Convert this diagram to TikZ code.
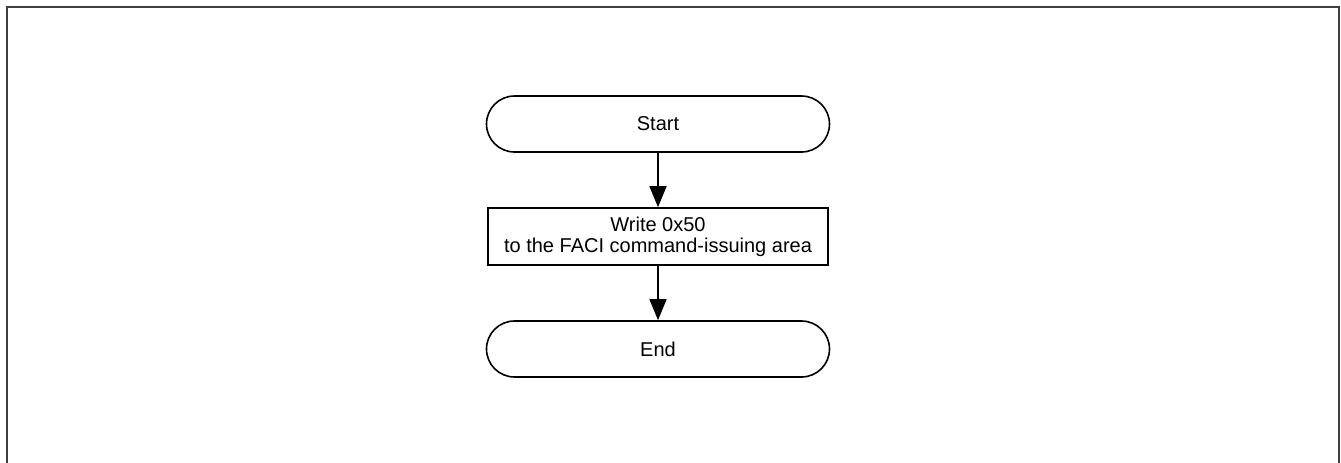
\documentclass[tikz,border=0pt]{standalone}
\usepackage{fontspec}
\setmainfont{Liberation Sans}
\usetikzlibrary{arrows.meta}
\begin{document}
\begin{tikzpicture}[x=1pt,y=-1pt,line width=1.6pt,
  every node/.style={draw,align=center,font=\fontsize{20}{21}\selectfont,inner sep=0pt},
  terminal/.style={rectangle,rounded corners=28pt,minimum width=343pt,minimum height=56pt},
  process/.style={rectangle,minimum width=340pt,minimum height=57pt},
  flow/.style={-{Triangle[length=21pt,width=17pt]}}]
\useasboundingbox (0,0) rectangle (1341,463);
\draw[line width=2pt,black!75] (7,470) -- (7,7) -- (1339,7) -- (1339,470);
\node[terminal] (start) at (658,124) {Start};
\node[process] (write) at (658,236.5) {Write 0x50\\to the FACI command-issuing area};
\node[terminal] (stop) at (658,349) {End};
\draw[flow] (start) -- (write);
\draw[flow] (write) -- (stop);
\end{tikzpicture}
\end{document}
